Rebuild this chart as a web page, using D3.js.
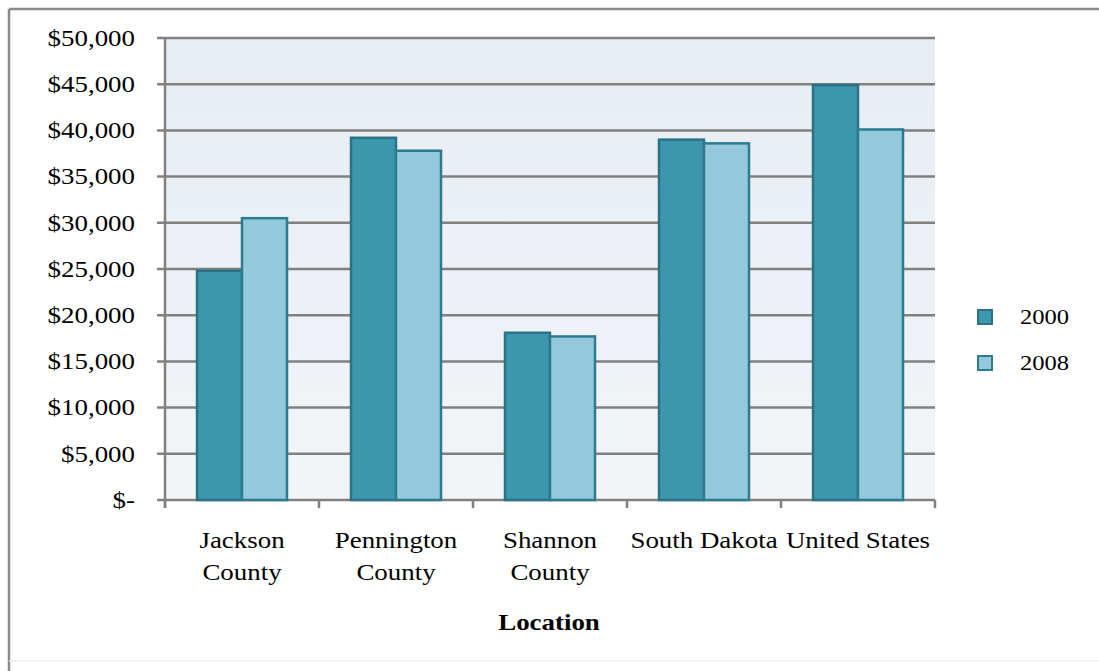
<!DOCTYPE html>
<html><head><meta charset="utf-8">
<script src="https://cdn.jsdelivr.net/npm/d3@7"></script>
<style>body{margin:0;background:#fff}svg{display:block}</style>
</head><body>
<svg id="c" width="1099" height="671"></svg>
<script>
const categories = [["Jackson","County"],["Pennington","County"],["Shannon","County"],["South Dakota"],["United States"]];
const series = ["2000","2008"];
const values2000 = [24800, 39200, 18100, 39000, 44900];
const values2008 = [30500, 37800, 17700, 38600, 40100];
const yTicks = [0,5000,10000,15000,20000,25000,30000,35000,40000,45000,50000];
const tickLabels = ["$-","$5,000","$10,000","$15,000","$20,000","$25,000","$30,000","$35,000","$40,000","$45,000","$50,000"];
const fills = ["#3c97ad","#93c9da"];
const strokes = ["#2a7386","#2d7b8e"];

const svg = d3.select("#c");
const L=165, R=935, T=38, B=500;
const FONT = "'Liberation Serif','Times New Roman',serif";
const SX = 1.17;

// outer frame
svg.append("line").attr("x1",9).attr("x2",1099).attr("y1",9).attr("y2",9).attr("stroke","#8a8a8a").attr("stroke-width",2.5);
svg.append("line").attr("x1",9).attr("x2",9).attr("y1",9).attr("y2",671).attr("stroke","#8a8a8a").attr("stroke-width",2.5);
svg.append("line").attr("x1",9).attr("x2",1099).attr("y1",661).attr("y2",661).attr("stroke","#eeeeee").attr("stroke-width",1.5);

const defs = svg.append("defs");
const g = defs.append("linearGradient").attr("id","bg").attr("x1","0").attr("x2","0").attr("y1","0").attr("y2","1");
g.append("stop").attr("offset","0").attr("stop-color","#e7edf3");
g.append("stop").attr("offset","1").attr("stop-color","#f2f5f8");

const x = d3.scaleBand().domain(categories.map((d,i)=>i)).range([L,R]).padding(0);
const y = d3.scaleLinear().domain([0,50000]).range([B,T]);

svg.append("rect").attr("x",L).attr("y",T).attr("width",R-L).attr("height",B-T).attr("fill","url(#bg)");

// gridlines + ticks
svg.selectAll(".grid").data(yTicks).enter().append("line")
  .attr("x1",L-8).attr("x2",R).attr("y1",d=>y(d)).attr("y2",d=>y(d))
  .attr("stroke","#808080").attr("stroke-width",2.5);

function stretchText(sel, x0, y0, anchor){
  sel.attr("transform",`translate(${x0},${y0}) scale(${SX},1)`).attr("text-anchor",anchor);
}
yTicks.forEach((v,i)=>{
  const t = svg.append("text").attr("font-family",FONT).attr("font-size",23).attr("fill","#000")
    .attr("dominant-baseline","central").text(tickLabels[i]);
  stretchText(t, 135, y(v), "end");
});

// axes
svg.append("line").attr("x1",L).attr("x2",L).attr("y1",T).attr("y2",B+8).attr("stroke","#808080").attr("stroke-width",2.5);
svg.selectAll(".xt").data(d3.range(categories.length+1)).enter().append("line")
  .attr("x1",d=>L+d*x.bandwidth()).attr("x2",d=>L+d*x.bandwidth()).attr("y1",B).attr("y2",B+8)
  .attr("stroke","#808080").attr("stroke-width",2.5);

// bars
const bw = 45;
[values2000, values2008].forEach((vals,si)=>{
  svg.selectAll(".b"+si).data(vals).enter().append("rect")
    .attr("x",(d,i)=>x(i)+x.bandwidth()/2 - bw + si*bw)
    .attr("y",d=>y(d)).attr("width",bw).attr("height",d=>B-y(d))
    .attr("fill",fills[si]).attr("stroke",strokes[si]).attr("stroke-width",2.5);
});

// category labels
categories.forEach((lines,i)=>{
  lines.forEach((ln,j)=>{
    const t = svg.append("text").attr("font-family",FONT).attr("font-size",23).attr("fill","#000").text(ln);
    stretchText(t, x(i)+x.bandwidth()/2, 548+j*32, "middle");
  });
});

// axis title
const tt = svg.append("text").attr("font-family",FONT).attr("font-size",23).attr("font-weight","bold").attr("fill","#000").text("Location");
stretchText(tt, 549, 630, "middle");

// legend
series.forEach((s,i)=>{
  const ly = 317 + i*46;
  svg.append("rect").attr("x",978).attr("y",ly-7).attr("width",14).attr("height",14)
    .attr("fill",fills[i]).attr("stroke",strokes[i]).attr("stroke-width",2);
  const t = svg.append("text").attr("font-family",FONT).attr("font-size",21).attr("fill","#000")
    .attr("dominant-baseline","central").text(s);
  stretchText(t, 1020, ly, "start");
});
</script>
</body></html>
